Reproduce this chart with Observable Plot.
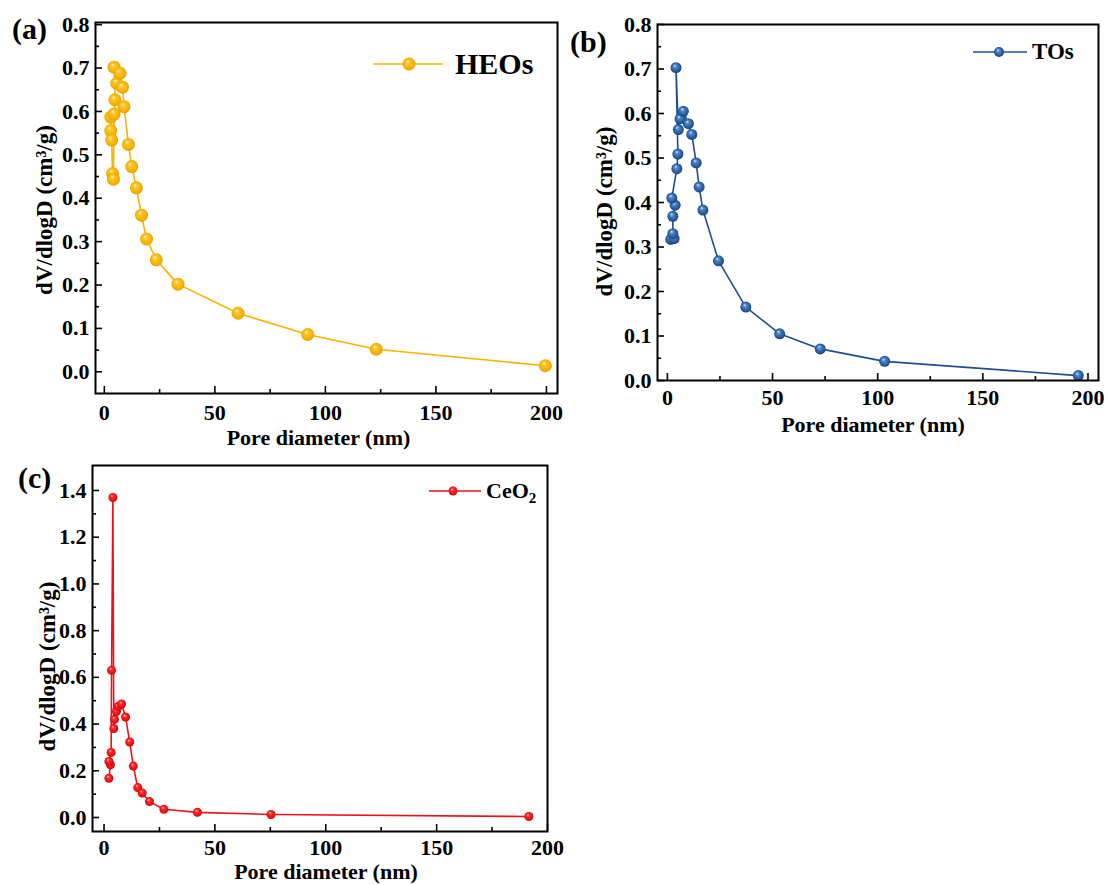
<!DOCTYPE html>
<html>
<head>
<meta charset="utf-8">
<script src="https://cdn.jsdelivr.net/npm/d3@7"></script>
<script src="https://cdn.jsdelivr.net/npm/@observablehq/plot@0.6"></script>
<style>
  body { margin: 0; background: #fff; }
  #wrap { position: relative; width: 1108px; height: 885px; background: #fff; overflow: hidden;
          font-family: "Liberation Serif", "Times New Roman", serif; color: #000; }
  .panel { position: absolute; }
  .tag { position: absolute; font-weight: bold; font-size: 30px; line-height: 30px; white-space: nowrap; }
  .legtxt { position: absolute; font-weight: bold; white-space: nowrap; }
  .legsym { position: absolute; overflow: visible; }
</style>
</head>
<body>
<div id="wrap">
  <svg width="0" height="0" style="position:absolute">
    <defs>
      <radialGradient id="gY" cx="50%" cy="50%" r="55%" fx="38%" fy="30%">
        <stop offset="0%" stop-color="#fff7d0"/>
        <stop offset="28%" stop-color="#ffc629"/>
        <stop offset="75%" stop-color="#f5b000"/>
        <stop offset="100%" stop-color="#d99a00"/>
      </radialGradient>
      <radialGradient id="gB" cx="50%" cy="50%" r="55%" fx="38%" fy="30%">
        <stop offset="0%" stop-color="#d6e6fa"/>
        <stop offset="28%" stop-color="#4f86c6"/>
        <stop offset="75%" stop-color="#24589a"/>
        <stop offset="100%" stop-color="#123a6e"/>
      </radialGradient>
      <radialGradient id="gR" cx="50%" cy="50%" r="55%" fx="38%" fy="30%">
        <stop offset="0%" stop-color="#ffd0d0"/>
        <stop offset="28%" stop-color="#ff3030"/>
        <stop offset="75%" stop-color="#e81010"/>
        <stop offset="100%" stop-color="#b80000"/>
      </radialGradient>
    </defs>
  </svg>
  <div class="panel" id="pa" style="left:0px;top:0px"></div>
  <div class="panel" id="pb" style="left:560px;top:0px"></div>
  <div class="panel" id="pc" style="left:0px;top:440px"></div>

  <div class="tag" style="left:12px;top:14px">(a)</div>
  <div class="tag" style="left:570px;top:27px">(b)</div>
  <div class="tag" style="left:18px;top:463px">(c)</div>

  <svg class="legsym" style="left:373px;top:57px" width="70" height="14">
    <line x1="0" y1="7" x2="70" y2="7" stroke="#f4b400" stroke-width="1.6"/>
    <circle cx="36" cy="7" r="6.5" fill="url(#gY)"/>
  </svg>
  <div class="legtxt" style="left:455px;top:49px;font-size:30px;line-height:30px">HEOs</div>

  <svg class="legsym" style="left:973px;top:46px" width="54" height="12">
    <line x1="0" y1="6" x2="54" y2="6" stroke="#1f4e8c" stroke-width="1.6"/>
    <circle cx="26" cy="6" r="5" fill="url(#gB)"/>
  </svg>
  <div class="legtxt" style="left:1032px;top:40px;font-size:23px;line-height:23px">TOs</div>

  <svg class="legsym" style="left:429px;top:486px" width="52" height="10">
    <line x1="0" y1="5" x2="52" y2="5" stroke="#e8141c" stroke-width="1.6"/>
    <circle cx="24" cy="5" r="4.5" fill="url(#gR)"/>
  </svg>
  <div class="legtxt" style="left:486px;top:480px;font-size:22px;line-height:22px">CeO<sub style="font-size:15px">2</sub></div>
</div>

<script>
// ---------------- data ----------------
const xMajor = [0, 50, 100, 150, 200];
const xMinor = [25, 75, 125, 175];
const yMajorAB = [0, 0.1, 0.2, 0.3, 0.4, 0.5, 0.6, 0.7, 0.8];
const yMinorAB = [0.05, 0.15, 0.25, 0.35, 0.45, 0.55, 0.65, 0.75];
const yMajorC = [0, 0.2, 0.4, 0.6, 0.8, 1.0, 1.2, 1.4];
const yMinorC = [0.1, 0.3, 0.5, 0.7, 0.9, 1.1, 1.3];

const xTitle = "Pore diameter (nm)";
const yTitle = "dV/dlogD (cm\u00B3/g)";

// HEOs (a)
const heoD = [2.9, 2.9, 3.3, 3.7, 4.1, 4.4, 4.8, 4.4, 5.6, 7.1, 8.2, 8.9, 10.9, 12.4, 14.5, 16.8, 19.1, 23.5, 33.3, 60.5, 92, 123, 199.5];
const heoV = [0.587, 0.556, 0.534, 0.457, 0.444, 0.594, 0.627, 0.702, 0.665, 0.688, 0.656, 0.611, 0.524, 0.473, 0.424, 0.361, 0.306, 0.258, 0.202, 0.135, 0.086, 0.052, 0.014];

// TOs (b)
const toD = [1.6, 3.2, 2.6, 2.6, 3.7, 2.1, 4.5, 5.0, 4.1, 5.2, 6.0, 7.6, 10.0, 11.6, 13.7, 15.1, 16.9, 24.3, 37.3, 53.4, 72.7, 103.3, 195.4];
const toV = [0.317, 0.319, 0.330, 0.369, 0.394, 0.410, 0.476, 0.509, 0.703, 0.564, 0.588, 0.605, 0.577, 0.553, 0.489, 0.435, 0.383, 0.269, 0.165, 0.105, 0.071, 0.043, 0.011];

// CeO2 (c)
const ceD = [2.2, 2.9, 2.2, 3.2, 3.4, 4.0, 4.4, 4.7, 5.6, 6.4, 7.9, 9.7, 11.6, 13.2, 15.2, 17.2, 20.5, 27.0, 42.1, 75.3, 191.6];
const ceV = [0.168, 0.226, 0.240, 0.278, 0.630, 1.370, 0.381, 0.420, 0.454, 0.475, 0.486, 0.430, 0.323, 0.220, 0.128, 0.105, 0.068, 0.035, 0.022, 0.013, 0.004];

const FONT = "Liberation Serif, Times New Roman, serif";

function makePanel(cfg) {
  const data = cfg.xs.map((x, i) => ({d: x, v: cfg.ys[i]}));
  const pw = cfg.width - cfg.ml - cfg.mr;
  const ph = cfg.height - cfg.mt - cfg.mb;
  return Plot.plot({
    width: cfg.width, height: cfg.height,
    marginLeft: cfg.ml, marginRight: cfg.mr, marginTop: cfg.mt, marginBottom: cfg.mb,
    style: {fontFamily: FONT, fontWeight: "bold", color: "#000", background: "transparent", overflow: "visible"},
    x: {domain: cfg.xDomain},
    y: {domain: cfg.yDomain},
    marks: [
      Plot.line(data, {x: "d", y: "v", stroke: cfg.line, strokeWidth: 1.6}),
      Plot.dot(data, {x: "d", y: "v", r: cfg.r, fill: cfg.fill, stroke: "none"}),
      // inward tick marks
      Plot.tickX(xMajor, {x: d => d, insetTop: ph - 7, stroke: "#000", strokeWidth: 1.6}),
      Plot.tickX(xMinor, {x: d => d, insetTop: ph - 4, stroke: "#000", strokeWidth: 1.6}),
      Plot.tickY(cfg.yMajor, {y: d => d, insetRight: pw - 7, stroke: "#000", strokeWidth: 1.6}),
      Plot.tickY(cfg.yMinor, {y: d => d, insetRight: pw - 4, stroke: "#000", strokeWidth: 1.6}),
      Plot.frame({stroke: "#000", strokeWidth: 2}),
      Plot.axisX(xMajor, {tickSize: 0, tickPadding: cfg.xPad, fontSize: 22, fontWeight: "bold", tickFormat: d3.format("d"), label: null}),
      Plot.axisY(cfg.yMajor, {tickSize: 0, tickPadding: 6, fontSize: 22, fontWeight: "bold", tickFormat: d3.format(".1f"), label: null}),
      Plot.text([xTitle], {text: d => d, frameAnchor: "bottom", textAnchor: "middle", dx: cfg.xtDx, dy: cfg.xtDy, lineAnchor: "middle", fontSize: 22, fontWeight: "bold"}),
      Plot.text([yTitle], {text: d => d, frameAnchor: "left", textAnchor: "middle", rotate: -90, dx: cfg.ytDx, dy: cfg.ytDy, lineAnchor: "middle", fontSize: 23, fontWeight: "bold"})
    ]
  });
}

document.getElementById("pa").appendChild(makePanel({
  xs: heoD, ys: heoV, line: "#f4b400", fill: "url(#gY)", r: 6.5,
  width: 560, height: 440, ml: 95, mr: 3, mt: 22, mb: 47,
  xDomain: [-4, 205], yDomain: [-0.05, 0.805],
  yMajor: yMajorAB, yMinor: yMinorAB,
  xPad: 11, xtDx: -8, xtDy: 44, ytDx: -51, ytDy: 2
}));

document.getElementById("pb").appendChild(makePanel({
  xs: toD, ys: toV, line: "#1f4e8c", fill: "url(#gB)", r: 5.5,
  width: 548, height: 440, ml: 97, mr: 10, mt: 24, mb: 60,
  xDomain: [-4.7, 205], yDomain: [0, 0.8],
  yMajor: yMajorAB, yMinor: yMinorAB,
  xPad: 9, xtDx: -5, xtDy: 44, ytDx: -53, ytDy: 9
}));

document.getElementById("pc").appendChild(makePanel({
  xs: ceD, ys: ceV, line: "#e8141c", fill: "url(#gR)", r: 4.5,
  width: 560, height: 445, ml: 92, mr: 13, mt: 25, mb: 54,
  xDomain: [-5.2, 200], yDomain: [-0.06, 1.507],
  yMajor: yMajorC, yMinor: yMinorC,
  xPad: 8, xtDx: 6, xtDy: 40, ytDx: -45, ytDy: 18
}));
</script>
</body>
</html>
